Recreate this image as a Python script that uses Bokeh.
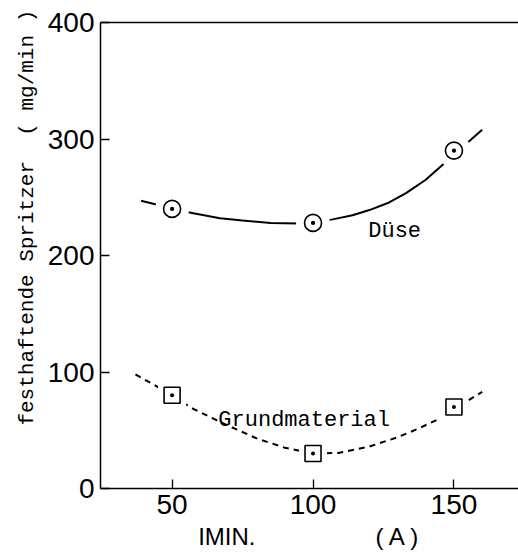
from math import pi
from bokeh.plotting import figure
from bokeh.models import Range1d, Label, LinearAxis, FixedTicker, ColumnDataSource
from bokeh.embed import file_html
from bokeh.resources import INLINE

# ---- data ----
x_ticks = [50, 100, 150]
y_ticks = [0, 100, 200, 300, 400]

current = [50, 100, 150]
duese = [240, 228, 290]
grund = [80, 30, 70]

duese_curve_x = [39, 44, 50, 58, 67, 75, 85, 95, 100, 107, 114, 120, 127, 133, 140, 147, 153, 160]
duese_curve_y = [247, 244, 240, 236, 232, 230, 228, 227.5, 228, 231, 234.5, 239, 245.5, 253.5, 265, 280, 293, 308]

grund_curve_x = [37, 45, 50, 57, 68, 80, 90, 100, 109, 120, 130, 137, 144, 150, 160]
grund_curve_y = [98, 87, 80, 69, 56, 43, 35, 30, 30.5, 36, 44, 51, 59, 68, 83]

NB = "\u00a0"
y_title = NB * 6 + "festhaftende Spritzer" + NB * 2 + "( mg/min )"
x_title = "IMIN." + NB * 18 + "( A )"

p = figure(width=518, height=560, x_range=Range1d(24.6, 172.9), y_range=Range1d(0, 400),
           output_backend="svg", toolbar_location=None,
           min_border_left=100, min_border_right=0, min_border_top=22, min_border_bottom=72)
p.grid.visible = False
p.outline_line_color = None

for ax in (p.xaxis[0], p.yaxis[0]):
    ax.axis_line_width = 1.5
    ax.axis_line_color = "black"
    ax.major_tick_in = 9
    ax.major_tick_out = 0
    ax.major_tick_line_width = 1.3
    ax.minor_tick_in = 0
    ax.minor_tick_out = 0
    ax.major_label_text_font = "Liberation Sans"
    ax.major_label_text_font_size = "28px"
    ax.major_label_text_color = "black"
    ax.axis_label_text_font_style = "normal"
    ax.axis_label_text_color = "black"

p.xaxis.ticker = FixedTicker(ticks=x_ticks)
p.yaxis.ticker = FixedTicker(ticks=y_ticks)
p.xaxis.major_label_standoff = 6
p.yaxis.major_label_standoff = 6

p.yaxis.axis_label = y_title
p.yaxis.axis_label_text_font = "Liberation Mono"
p.yaxis.axis_label_text_font_size = "21px"
p.yaxis.axis_label_standoff = 6

p.xaxis.axis_label = x_title
p.xaxis.axis_label_text_font = "Liberation Sans"
p.xaxis.axis_label_text_font_size = "24px"
p.xaxis.axis_label_standoff = 6

top = LinearAxis(ticker=FixedTicker(ticks=[]), axis_line_width=1.5, axis_line_color="black",
                 major_tick_in=0, major_tick_out=0, minor_tick_in=0, minor_tick_out=0,
                 major_label_text_font_size="0px")
p.add_layout(top, "above")

# curves
p.line(duese_curve_x, duese_curve_y, line_color="black", line_width=2)
p.line(grund_curve_x, grund_curve_y, line_color="black", line_width=2, line_dash="6 5")

# white halos that break the curves around markers
src_d = ColumnDataSource(dict(x=current, y=duese))
src_g = ColumnDataSource(dict(x=current, y=grund))
p.scatter("x", "y", source=src_d, marker="circle", size=34, fill_color="white", line_color=None)
p.scatter("x", "y", source=src_g, marker="square", size=28, fill_color="white", line_color=None)

p.scatter("x", "y", source=src_d, marker="circle_dot", size=17, fill_color="white",
          line_color="black", line_width=1.6)
p.scatter("x", "y", source=src_g, marker="square_dot", size=16, fill_color="white",
          line_color="black", line_width=1.6)

p.add_layout(Label(x=119.6, y=221, text="Düse", text_font="Liberation Mono",
                   text_font_size="22px", text_color="black", text_baseline="alphabetic"))
p.add_layout(Label(x=66.4, y=58.5, text="Grundmaterial", text_font="Liberation Mono",
                   text_font_size="22px", text_color="black", text_baseline="alphabetic"))

open("out.html", "w").write(file_html(p, INLINE))
